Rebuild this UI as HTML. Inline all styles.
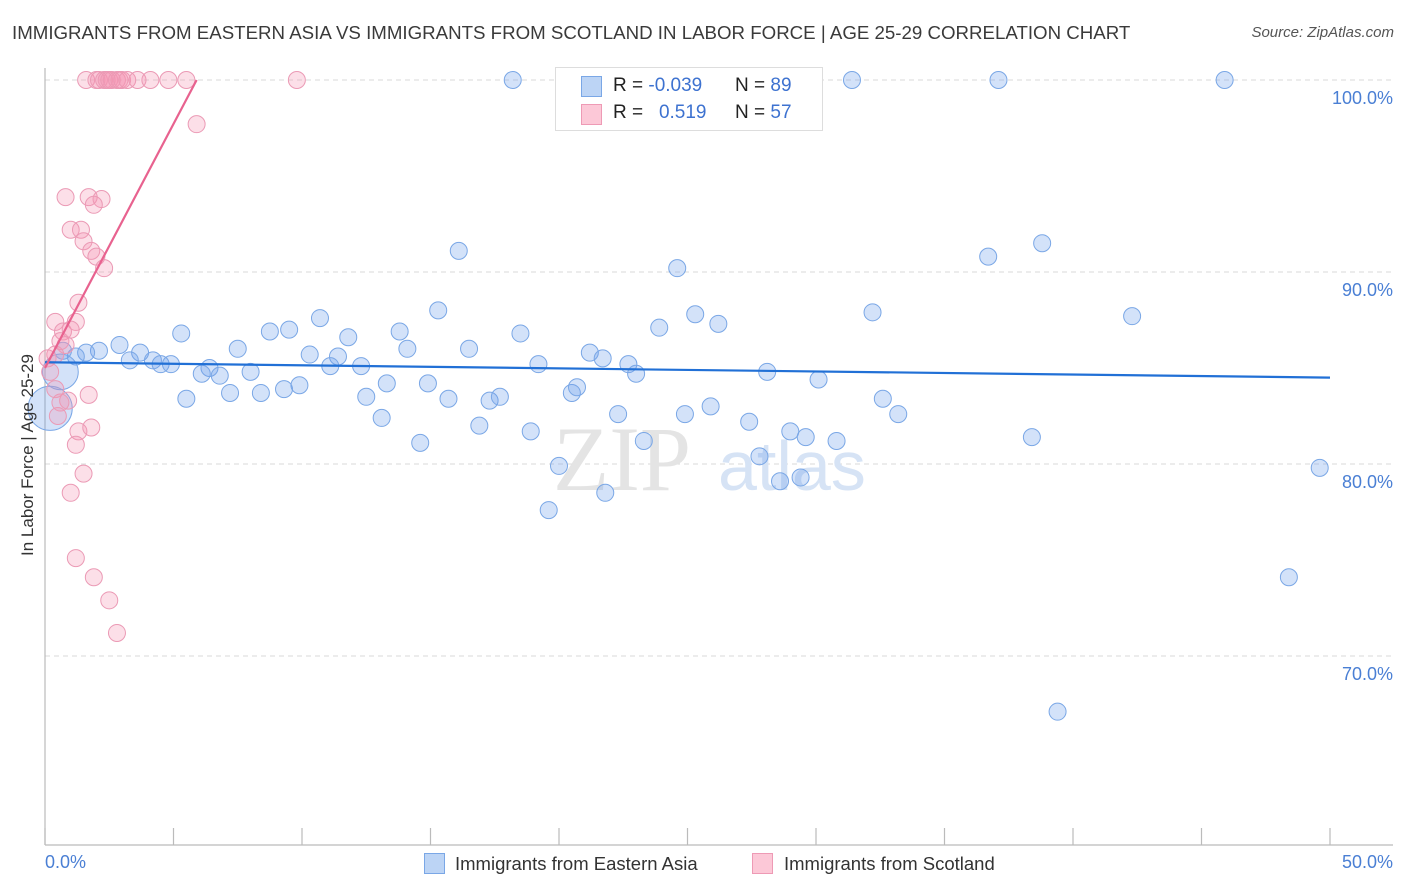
<!DOCTYPE html>
<html><head><meta charset="utf-8">
<style>
body{margin:0;background:#fff;font-family:"Liberation Sans",sans-serif;}
#wrap{position:relative;width:1406px;height:892px;overflow:hidden;}
.t{position:absolute;white-space:nowrap;}
</style></head><body>
<div id="wrap">
<div class="t" style="left:12px;top:22px;font-size:18.7px;color:#3a3a3a;">IMMIGRANTS FROM EASTERN ASIA VS IMMIGRANTS FROM SCOTLAND IN LABOR FORCE | AGE 25-29 CORRELATION CHART</div>
<div class="t" style="right:12px;top:24px;font-size:15px;color:#555;font-style:italic;">Source: ZipAtlas.com</div>
<svg id="svg" width="1406" height="892" style="position:absolute;left:0;top:0"></svg>
</div>
<script>
const blueX=[18.2,31.4,37.1,45.9,16.1,24.6,36.7,38.8,15.3,10.7,5.3,8.75,9.5,11.8,13.8,18.5,23.9,25.3,26.2,32.2,42.3,7.5,14.1,16.5,21.2,21.7,10.3,11.4,2.9,2.1,1.6,1.2,3.7,4.2,3.3,4.5,4.9,6.4,6.1,6.8,8.0,11.1,12.3,19.2,22.7,23.0,28.1,30.1,13.3,14.9,9.9,9.3,8.4,7.2,5.5,12.5,15.7,17.3,17.7,20.5,20.7,32.6,33.2,22.3,24.9,25.9,13.1,16.9,18.9,27.4,29.0,29.6,30.8,23.3,14.6,38.4,27.8,20.0,28.6,29.4,21.8,19.6,49.6,48.4,39.4,0.6,0.2,0.7];
const blueY=[100,100,100,100,91.1,90.2,90.8,91.5,88.0,87.6,86.8,86.9,87.0,86.6,86.9,86.8,87.1,87.8,87.3,87.9,87.7,86.0,86.0,86.0,85.8,85.5,85.7,85.6,86.2,85.9,85.8,85.6,85.8,85.4,85.4,85.2,85.2,85.0,84.7,84.6,84.8,85.1,85.1,85.2,85.2,84.7,84.8,84.4,84.2,84.2,84.1,83.9,83.7,83.7,83.4,83.5,83.4,83.3,83.5,83.7,84.0,83.4,82.6,82.6,82.6,83.0,82.4,82.0,81.7,82.2,81.7,81.4,81.2,81.2,81.1,81.4,80.4,79.9,79.1,79.3,78.5,77.6,79.8,74.1,67.1,84.8,82.9,85.9];
const blueW=blueX.map(()=>1); blueW[85]=2.1; blueW[86]=2.6;
const pinkX=[1.6,2.0,2.1,2.3,2.4,2.5,2.6,2.8,2.9,3.0,3.2,3.6,4.1,4.8,5.5,9.8,5.9,0.8,1.7,2.2,1.9,1.0,1.4,1.5,1.8,2.0,2.3,1.3,0.4,1.2,0.7,1.0,0.6,0.8,0.4,0.1,0.2,0.4,0.9,1.7,0.6,0.5,1.3,1.8,1.2,1.5,1.0,1.2,1.9,2.5,2.8];
const pinkY=[100,100,100,100,100,100,100,100,100,100,100,100,100,100,100,100,97.7,93.9,93.9,93.8,93.5,92.2,92.2,91.6,91.1,90.8,90.2,88.4,87.4,87.4,86.9,87.0,86.4,86.2,85.7,85.5,84.8,83.9,83.3,83.6,83.2,82.5,81.7,81.9,81.0,79.5,78.5,75.1,74.1,72.9,71.2];
const blueTrend=[[0,85.3],[50,84.5]];
const pinkTrend=[[0,85.0],[5.9,100]];
const yTicks=[100,90,80,70];
const xTicks=[0,5,10,15,20,25,30,35,40,45,50];
const X=v=>45+v*25.7, Y=v=>80+(100-v)*19.2;
const svg=document.getElementById('svg');
const NS='http://www.w3.org/2000/svg';
function mk(tag,attrs,parent){const e=document.createElementNS(NS,tag);for(const k in attrs)e.setAttribute(k,attrs[k]);(parent||svg).appendChild(e);return e;}
yTicks.forEach(v=>{
 const l=mk('line',{x1:45,x2:1393,y1:Y(v),y2:Y(v),stroke:'#d8d8d8','stroke-dasharray':'5,4','stroke-width':1});
 
 
 const t=mk('text',{x:1393,y:Y(v)+24,'text-anchor':'end','font-size':18,fill:'#4a7fd4','font-family':'Liberation Sans, sans-serif'});
 t.textContent=v.toFixed(1)+'%';
 
 
});
const ax=mk('line',{x1:45,x2:45,y1:68,y2:845,stroke:'#bbb','stroke-width':1.2});


const bx=mk('line',{x1:45,x2:1393,y1:845,y2:845,stroke:'#bbb','stroke-width':1.2});


xTicks.forEach(v=>{const l=mk('line',{x1:X(v),x2:X(v),y1:828,y2:845,stroke:'#bbb','stroke-width':1.2});
 
 });
const wm=mk('text',{x:553,y:490,'font-size':92,fill:'#e4e4e4','font-family':'Liberation Serif, serif'});wm.textContent='ZIP';


const wm2=mk('text',{x:718,y:490,'font-size':70,fill:'#d6e3f5','font-family':'Liberation Sans, sans-serif'});wm2.textContent='atlas';


blueX.forEach((x,i)=>{const c=mk('circle',{cx:X(x),cy:Y(blueY[i]),r:8.5*blueW[i],fill:'rgba(110,160,235,0.3)',stroke:'#7aa7e6','stroke-width':1});
 
 });
pinkX.forEach((x,i)=>{const c=mk('circle',{cx:X(x),cy:Y(pinkY[i]),r:8.5,fill:'rgba(244,150,180,0.3)',stroke:'#eb9ab5','stroke-width':1});
 
 });
const bl=mk('line',{x1:X(blueTrend[0][0]),y1:Y(blueTrend[0][1]),x2:X(blueTrend[1][0]),y2:Y(blueTrend[1][1]),stroke:'#2170d6','stroke-width':2.2});


const pl=mk('line',{x1:X(pinkTrend[0][0]),y1:Y(pinkTrend[0][1]),x2:X(pinkTrend[1][0]),y2:Y(pinkTrend[1][1]),stroke:'#e8628f','stroke-width':2.2});


</script>
<div class="t" style="left:28px;top:455px;font-size:17px;color:#333;transform:translate(-50%,-50%) rotate(-90deg);">In Labor Force | Age 25-29</div>
<div class="t" style="left:45px;top:852px;font-size:18px;color:#4a7fd4;">0.0%</div>
<div class="t" style="right:13px;top:852px;font-size:18px;color:#4a7fd4;">50.0%</div>
<div style="position:absolute;left:555px;top:67px;width:266px;height:62px;background:#fff;border:1px solid #ddd;font-size:19px;">
 <div style="position:absolute;left:25px;top:8px;width:19px;height:19px;background:#bcd4f5;border:1px solid #7aa7e6;"></div>
 <div style="position:absolute;left:25px;top:36px;width:19px;height:19px;background:#fcc8d7;border:1px solid #ee9ab5;"></div>
 <div class="t" style="left:57px;top:7px;color:#222;">R = <span style="color:#3d72d0">-0.039</span></div>
 <div class="t" style="left:179px;top:7px;color:#222;">N = <span style="color:#3d72d0">89</span></div>
 <div class="t" style="left:57px;top:34px;color:#222;">R = &nbsp;&nbsp;<span style="color:#3d72d0">0.519</span></div>
 <div class="t" style="left:179px;top:34px;color:#222;">N = <span style="color:#3d72d0">57</span></div>
</div>
<div style="position:absolute;left:424px;top:853px;">
 <div style="position:absolute;left:0;top:0;width:19px;height:19px;background:#bcd4f5;border:1px solid #7aa7e6;"></div>
 <div class="t" style="left:31px;top:0;font-size:18.5px;color:#333;">Immigrants from Eastern Asia</div>
</div>
<div style="position:absolute;left:752px;top:853px;">
 <div style="position:absolute;left:0;top:0;width:19px;height:19px;background:#fcc8d7;border:1px solid #ee9ab5;"></div>
 <div class="t" style="left:32px;top:0;font-size:18.5px;color:#333;">Immigrants from Scotland</div>
</div>
</body></html>
